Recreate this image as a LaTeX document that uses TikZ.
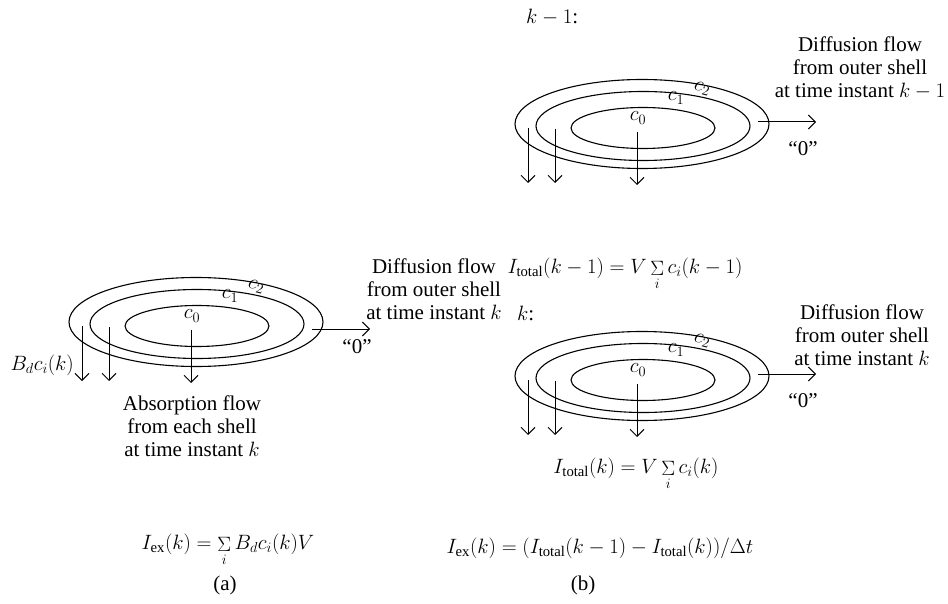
\documentclass[tikz,border=0pt]{standalone}
\usepackage{amsmath}
\usepackage{fontspec}
\setmainfont{Liberation Serif}
\usetikzlibrary{shapes.geometric,arrows.meta,positioning}
\newcommand{\smallsum}{\mathop{\Sigma}\limits}
\tikzset{
  shell style/.style={ellipse, draw, line width=1.1pt, inner sep=0pt},
  flow style/.style={-{Straight Barb[length=7pt,width=14pt]}, line width=1pt},
  txt style/.style={font=\fontsize{21}{23}\selectfont, align=center, inner sep=0pt},
}

\begin{document}
\begin{tikzpicture}[x=1pt, y=-1pt]
\useasboundingbox (0,0) rectangle (948,604);
% shells: panel name / centre / height of the outflow arrow
\foreach \p/\cx/\cy/\ay in {a/196/322/7, b/642/124/-2, c/642/376/-2}{
  \begin{scope}[shift={(\cx,\cy)}]
    \node[shell style, minimum width=254, minimum height=89] (\p-outer) at (0,0) {};
    \node[shell style, minimum width=214, minimum height=69] (\p-mid) at (1,2) {};
    \node[shell style, minimum width=144, minimum height=41] (\p-in) at (1,4) {};
    \node[txt style] (\p-c0) at (-4,-6) {$c_0$};
    \node[txt style] (\p-c1) at (34,-26) {$c_1$};
    \node[txt style, rotate=-15] (\p-c2) at (60,-35) {$c_2$};
    \node[txt style] (\p-zero) at (161,25) {“0”};
    \coordinate (\p-s1) at (-114,4);  \coordinate (\p-e1) at (-114,59);
    \coordinate (\p-s2) at (-87,5);   \coordinate (\p-e2) at (-87,59);
    \coordinate (\p-s3) at (-5,8);    \coordinate (\p-e3) at (-5,61);
    \coordinate (\p-so) at (116,\ay); \coordinate (\p-eo) at (174,\ay);
    \draw[flow style] (\p-s1) -- (\p-e1);
    \draw[flow style] (\p-s2) -- (\p-e2);
    \draw[flow style] (\p-s3) -- (\p-e3);
    \draw[flow style] (\p-so) -- (\p-eo);
  \end{scope}
}
% panel (a)
\node[txt style, anchor=east] (a-bd) at (74,365) {$B_d c_i(k)$};
\node[txt style] (a-abs) at (192,426) {Absorption flow\\from each shell\\at time instant $k$};
\node[txt style] (a-diff) at (434,289) {Diffusion flow\\from outer shell\\at time instant $k$};
\node[txt style] (a-iex) at (228,550) {$I_{\mathrm{ex}}(k) = \smallsum_i B_d c_i(k) V$};
\node[txt style] (a-cap) at (225,585) {(a)};
% panel (b)
\node[txt style, anchor=west] (b-km1) at (526,17) {$k-1$:};
\node[txt style] (b-diff) at (860,68) {Diffusion flow\\from outer shell\\at time instant $k-1$};
\node[txt style] (b-itot) at (625,274) {$I_{\mathrm{total}}(k-1) = V\smallsum_i c_i(k-1)$};
\node[txt style, anchor=west] (c-k) at (517,313) {$k$:};
\node[txt style] (c-diff) at (862,335) {Diffusion flow\\from outer shell\\at time instant $k$};
\node[txt style] (c-itot) at (636,474) {$I_{\mathrm{total}}(k) = V\smallsum_i c_i(k)$};
\node[txt style] (b-iex) at (600,548) {$I_{\mathrm{ex}}(k) = (I_{\mathrm{total}}(k-1) - I_{\mathrm{total}}(k))/\Delta t$};
\node[txt style] (b-cap) at (583,585) {(b)};
\end{tikzpicture}
\end{document}
